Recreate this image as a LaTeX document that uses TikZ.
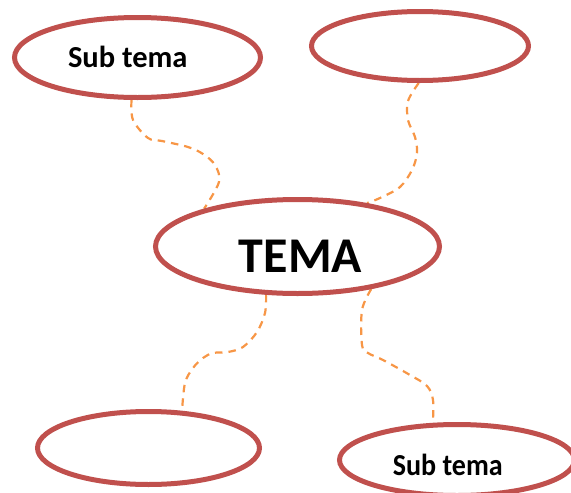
\documentclass[tikz,border=0pt]{standalone}
\usepackage{fontspec}
\setmainfont{Carlito}
\usetikzlibrary{shapes.geometric}
\definecolor{ellred}{HTML}{C0504D}
\definecolor{linkorange}{HTML}{F79646}
\pgfdeclarelayer{bg}
\pgfsetlayers{bg,main}
\tikzset{
  oval/.style={ellipse, draw=ellred, line width=5pt, inner sep=0pt, fill=white},
  lbl/.style={font=\bfseries, inner sep=0pt, anchor=base},
  link/.style={draw=linkorange, line width=2.2pt, dash pattern=on 7.5pt off 6pt, smooth, tension=0.55}
}
\begin{document}
\begin{tikzpicture}[x=1pt,y=-1pt]
\useasboundingbox (0,0) rectangle (571,493);
% ellipses
\node[oval, minimum width=246pt, minimum height=80pt] (tl) at (137.5,57.5) {};
\node[oval, minimum width=217pt, minimum height=69pt] (tr) at (420,46) {};
\node[oval, minimum width=284pt, minimum height=94pt] (ct) at (297.5,246.5) {};
\node[oval, minimum width=222pt, minimum height=73pt] (bl) at (148.5,448) {};
\node[oval, minimum width=235pt, minimum height=71pt] (br) at (457,460) {};
% connectors
\begin{pgfonlayer}{bg}
\draw[link] plot coordinates {(tl.-98) (133,120) (148,138) (162,141) (188,147) (203,154) (215,165) (219,182) (ct.158)};
\draw[link] plot coordinates {(tr.-92) (408,101) (408,120) (415,137) (417,153) (412,170) (400,187) (380,198) (ct.32.5)};
\draw[link] plot coordinates {(ct.-123) (265,313) (257,332) (243,347) (228,352) (213,353) (203,358) (193,368) (185,383) (bl.48)};
\draw[link] plot coordinates {(ct.-30) (362,310) (362,345) (368,353) (383,360) (410,375) (427,386) (433,400) (br.123.5)};
\end{pgfonlayer}
% labels
\node[lbl, font=\bfseries\fontsize{30.5}{36}\selectfont] (t1) at (127.8,67.7) {Sub tema};
\node[lbl, font=\bfseries\fontsize{50}{60}\selectfont] (t2) at (300.5,272.3) {TEMA};
\node[lbl, font=\bfseries\fontsize{30.5}{36}\selectfont, xscale=0.92] (t3) at (447.8,475.3) {Sub tema};
\end{tikzpicture}
\end{document}
